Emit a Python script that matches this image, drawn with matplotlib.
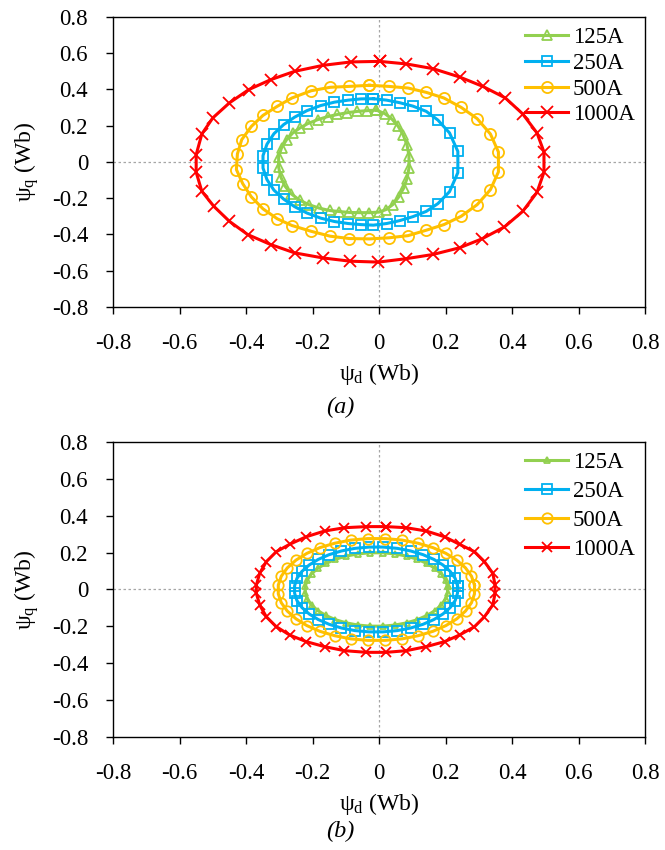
import numpy as np
import matplotlib.pyplot as plt

plt.rcParams['font.family'] = ['Liberation Serif', 'DejaVu Serif']
plt.rcParams['mathtext.fontset'] = 'custom'
plt.rcParams['mathtext.rm'] = 'Liberation Serif'
plt.rcParams['mathtext.it'] = 'Liberation Serif:italic'

labels = ['125A', '250A', '500A', '1000A']
colors = ['#92D050', '#00B0F0', '#FFC000', '#FF0000']
markers = ['^', 's', 'o', 'x']

# (a) flux linkage loci
d_a_125 = [-0.008, -0.036, -0.065, -0.095, -0.125, -0.155, -0.185, -0.215, -0.239, -0.260, -0.278, -0.293, -0.302,
           -0.302, -0.296, -0.284, -0.265, -0.239, -0.211, -0.180, -0.149, -0.119, -0.089, -0.059, -0.029,
           0.000, 0.021, 0.041, 0.059, 0.074, 0.084, 0.090,
           0.090, 0.084, 0.072, 0.057, 0.039, 0.018]
q_a_125 = [0.286, 0.283, 0.279, 0.272, 0.262, 0.250, 0.233, 0.211, 0.186, 0.159, 0.123, 0.079, 0.029,
           -0.029, -0.081, -0.131, -0.175, -0.211, -0.236, -0.255, -0.268, -0.274, -0.279, -0.280, -0.280,
           -0.277, -0.263, -0.236, -0.194, -0.145, -0.092, -0.034,
           0.035, 0.095, 0.151, 0.198, 0.236, 0.266]

d_a_250 = [-0.017, -0.054, -0.093, -0.134, -0.176, -0.217, -0.254, -0.287, -0.316, -0.337, -0.349,
           -0.349, -0.337, -0.316, -0.287, -0.254, -0.217, -0.176, -0.134, -0.093, -0.054, -0.017,
           0.023, 0.062, 0.102, 0.142, 0.177, 0.212, 0.237,
           0.237, 0.212, 0.177, 0.142, 0.102, 0.062, 0.023]
q_a_250 = [0.349, 0.348, 0.341, 0.330, 0.311, 0.283, 0.247, 0.206, 0.156, 0.098, 0.035,
           -0.034, -0.098, -0.156, -0.205, -0.247, -0.282, -0.310, -0.329, -0.340, -0.346, -0.349,
           -0.340, -0.324, -0.302, -0.273, -0.230, -0.164, -0.059,
           0.058, 0.160, 0.231, 0.279, 0.308, 0.327, 0.341]

d_a_500 = [-0.029, -0.089, -0.147, -0.204, -0.262, -0.306, -0.349, -0.384, -0.413, -0.426,
           -0.429, -0.410, -0.384, -0.349, -0.306, -0.262, -0.204, -0.147, -0.089, -0.029,
           0.029, 0.087, 0.142, 0.195, 0.247, 0.295, 0.335, 0.359,
           0.359, 0.335, 0.295, 0.247, 0.195, 0.142, 0.087, 0.029]
q_a_500 = [0.423, 0.417, 0.412, 0.393, 0.353, 0.307, 0.257, 0.196, 0.123, 0.044,
           -0.042, -0.120, -0.193, -0.259, -0.314, -0.351, -0.383, -0.410, -0.423, -0.425,
           -0.419, -0.407, -0.377, -0.346, -0.300, -0.236, -0.153, -0.055,
           0.055, 0.154, 0.239, 0.301, 0.353, 0.384, 0.408, 0.417]

d_a_1000 = [0.002, -0.084, -0.169, -0.254, -0.326, -0.392, -0.450, -0.500, -0.533, -0.550,
            -0.550, -0.533, -0.497, -0.450, -0.395, -0.326, -0.254, -0.169, -0.087, -0.002,
            0.082, 0.162, 0.242, 0.309, 0.377, 0.432, 0.475, 0.496,
            0.496, 0.475, 0.432, 0.380, 0.312, 0.242, 0.162, 0.082]
q_a_1000 = [0.555, 0.552, 0.533, 0.500, 0.454, 0.399, 0.326, 0.243, 0.154, 0.040,
            -0.057, -0.162, -0.245, -0.328, -0.401, -0.456, -0.502, -0.530, -0.548, -0.553,
            -0.534, -0.511, -0.474, -0.425, -0.359, -0.273, -0.168, -0.057,
            0.055, 0.160, 0.265, 0.353, 0.417, 0.469, 0.515, 0.541]

# (b) flux linkage loci
d_b_125 = [0.206, 0.200, 0.187, 0.168, 0.144, 0.115, 0.083, 0.048, 0.011,
           -0.027, -0.064, -0.099, -0.131, -0.160, -0.184, -0.203, -0.216, -0.222,
           -0.222, -0.216, -0.203, -0.184, -0.160, -0.131, -0.099, -0.064, -0.027,
           0.011, 0.048, 0.083, 0.115, 0.144, 0.168, 0.187, 0.200, 0.206]
q_b_125 = [0.017, 0.052, 0.085, 0.115, 0.141, 0.164, 0.181, 0.193, 0.199,
           0.199, 0.193, 0.181, 0.164, 0.141, 0.115, 0.085, 0.052, 0.017,
           -0.017, -0.052, -0.085, -0.115, -0.141, -0.164, -0.181, -0.193, -0.199,
           -0.199, -0.193, -0.181, -0.164, -0.141, -0.115, -0.085, -0.052, -0.017]

d_b_250 = [0.236, 0.229, 0.214, 0.192, 0.165, 0.132, 0.095, 0.055, 0.012,
           -0.030, -0.073, -0.113, -0.150, -0.183, -0.210, -0.232, -0.247, -0.254,
           -0.254, -0.247, -0.232, -0.210, -0.183, -0.150, -0.113, -0.073, -0.030,
           0.012, 0.055, 0.095, 0.132, 0.165, 0.192, 0.214, 0.229, 0.236]
q_b_250 = [0.020, 0.060, 0.098, 0.133, 0.163, 0.189, 0.209, 0.223, 0.230,
           0.230, 0.223, 0.209, 0.189, 0.163, 0.133, 0.098, 0.060, 0.020,
           -0.020, -0.060, -0.098, -0.133, -0.163, -0.189, -0.209, -0.223, -0.230,
           -0.230, -0.223, -0.209, -0.189, -0.163, -0.133, -0.098, -0.060, -0.020]

d_b_500 = [0.287, 0.278, 0.260, 0.234, 0.201, 0.162, 0.117, 0.069, 0.018,
           -0.034, -0.085, -0.133, -0.178, -0.217, -0.250, -0.276, -0.294, -0.303,
           -0.303, -0.294, -0.276, -0.250, -0.217, -0.178, -0.133, -0.085, -0.034,
           0.018, 0.069, 0.117, 0.162, 0.201, 0.234, 0.260, 0.278, 0.287]
q_b_500 = [0.024, 0.072, 0.117, 0.159, 0.196, 0.227, 0.251, 0.268, 0.276,
           0.276, 0.268, 0.251, 0.227, 0.196, 0.159, 0.117, 0.072, 0.024,
           -0.024, -0.072, -0.117, -0.159, -0.196, -0.227, -0.251, -0.268, -0.276,
           -0.276, -0.268, -0.251, -0.227, -0.196, -0.159, -0.117, -0.072, -0.024]

d_b_1000 = [0.022, -0.038, -0.104, -0.164, -0.219, -0.269, -0.309, -0.339, -0.359, -0.369,
            -0.369, -0.359, -0.339, -0.309, -0.269, -0.219, -0.164, -0.104, -0.038, 0.022,
            0.082, 0.142, 0.197, 0.242, 0.287, 0.317, 0.342, 0.349,
            0.349, 0.342, 0.317, 0.287, 0.242, 0.197, 0.142, 0.082]
q_b_1000 = [0.341, 0.341, 0.335, 0.317, 0.286, 0.245, 0.205, 0.151, 0.088, 0.024,
            -0.021, -0.084, -0.148, -0.202, -0.247, -0.283, -0.310, -0.332, -0.341, -0.341,
            -0.332, -0.310, -0.283, -0.247, -0.202, -0.148, -0.084, -0.021,
            0.024, 0.088, 0.151, 0.205, 0.245, 0.286, 0.317, 0.335]

ticks = [-0.8, -0.6, -0.4, -0.2, 0, 0.2, 0.4, 0.6, 0.8]
tick_labels = ['-0.8', '-0.6', '-0.4', '-0.2', '0', '0.2', '0.4', '0.6', '0.8']

fig = plt.figure(figsize=(6.65, 8.5), dpi=100)
ax_a = fig.add_axes([0.170, 0.639, 0.800, 0.341])
ax_b = fig.add_axes([0.170, 0.133, 0.800, 0.347])

panels = [
    (ax_a, [(d_a_125, q_a_125), (d_a_250, q_a_250), (d_a_500, q_a_500), (d_a_1000, q_a_1000)],
     [6.5, 7.5, 8, 8], '(a)', -0.348, 0.2),
    (ax_b, [(d_b_125, q_b_125), (d_b_250, q_b_250), (d_b_500, q_b_500), (d_b_1000, q_b_1000)],
     [5, 6.5, 7.5, 7], '(b)', -0.322, 0.34),
]

fs = 16.5
for ax, series, msizes, tag, tag_y, spacing in panels:
    ax.axvline(0, color='#A6A6A6', lw=0.9, ls=(0, (2, 2)), zorder=0)
    ax.axhline(0, color='#A6A6A6', lw=0.9, ls=(0, (2, 2)), zorder=0)
    for (d, q), lab, c, m, ms in zip(series, labels, colors, markers, msizes):
        ax.plot(np.append(d, d[0]), np.append(q, q[0]), color=c, lw=2.2,
                marker=m, ms=ms, mfc='none', mec=c, mew=1.3, label=lab)
    ax.set_xlim(-0.8, 0.8)
    ax.set_ylim(-0.8, 0.8)
    ax.set_xticks(ticks)
    ax.set_xticklabels(tick_labels)
    ax.set_yticks(ticks)
    ax.set_yticklabels(tick_labels)
    ax.tick_params(direction='out', length=5, width=1, labelsize=fs)
    ax.tick_params(axis='x', pad=14)
    ax.tick_params(axis='y', pad=13)
    for s in ax.spines.values():
        s.set_linewidth(1.0)
    ax.set_xlabel('ψ$_{\\rm d}$ (Wb)', fontsize=17, labelpad=5)
    ax.set_ylabel('ψ$_{\\rm q}$ (Wb)', fontsize=17, labelpad=8)
    ax.legend(loc='upper right', frameon=False, fontsize=fs, handlelength=1.9,
              handletextpad=0.2, labelspacing=spacing, borderaxespad=0.05, numpoints=1)
    ax.text(0.428, tag_y, tag, transform=ax.transAxes, ha='center', va='center',
            fontsize=17.5, style='italic')

fig.savefig('out.png', dpi=100)
